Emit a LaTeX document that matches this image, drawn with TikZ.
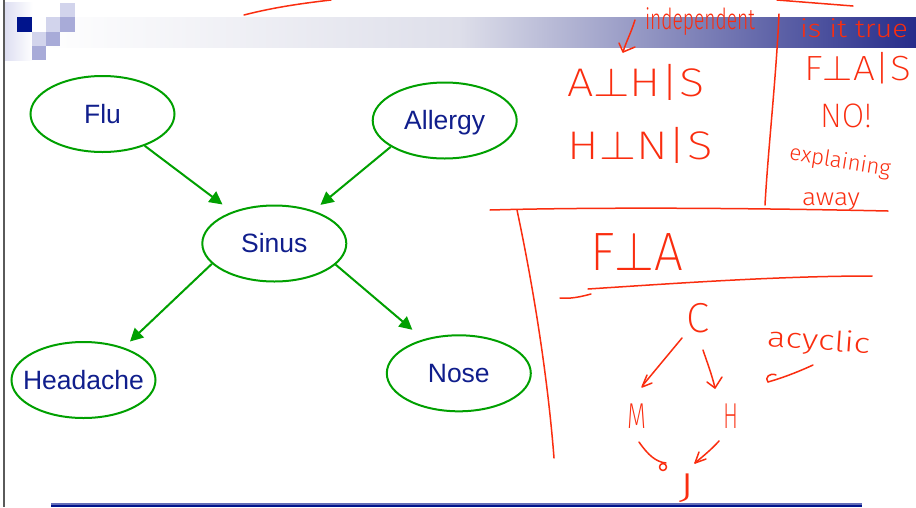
\documentclass[tikz,border=0pt]{standalone}
\usepackage{graphicx}
\usepackage{fontspec}
\setmainfont{Liberation Sans}
\IfFontExistsTF{Fira Sans Light}
  {\newfontfamily\hwa{Fira Sans Light}}
  {\IfFontExistsTF{Lato Light}
     {\newfontfamily\hwa{Lato Light}}
     {\newfontfamily\hwa{DejaVu Sans}}}
\IfFontExistsTF{Fira Sans ExtraLight}
  {\newfontfamily\hwb{Fira Sans ExtraLight}}
  {\IfFontExistsTF{Lato Light}
     {\newfontfamily\hwb{Lato Light}}
     {\newfontfamily\hwb{DejaVu Sans}}}
\IfFontExistsTF{latinmodern-math.otf}
  {\newfontfamily\pf{latinmodern-math.otf}}
  {\newfontfamily\pf{DejaVu Sans}}
\usetikzlibrary{shapes.geometric,arrows.meta}
\definecolor{bnblue}{RGB}{16,30,140}
\definecolor{bngreen}{RGB}{0,160,0}
\definecolor{ink}{RGB}{250,45,15}
\definecolor{hdrmid}{RGB}{222,223,234}
\definecolor{hdrend}{RGB}{38,44,138}
\definecolor{sqlight}{RGB}{210,212,236}
\definecolor{sqmed}{RGB}{168,171,216}
\definecolor{sqdark}{RGB}{0,20,140}
\definecolor{strip}{RGB}{222,223,242}
\definecolor{edge}{RGB}{90,90,90}
\definecolor{footlight}{RGB}{100,110,185}
\newcommand\lbl[1]{\makebox[0pt]{\vphantom{A}\smash{#1}}}
\newcommand\hwt[2]{\resizebox{#1}{\height}{#2}}
\newcommand\pp{{\pf ⊥}}
\begin{document}
\begin{tikzpicture}[x=1pt,y=-1pt,
  bn/.style={ellipse, draw=bngreen, line width=2pt, inner sep=0pt, text=bnblue,
             minimum width=144pt, minimum height=76pt, font=\fontsize{26.5}{30}\selectfont},
  bnarrow/.style={draw=bngreen, line width=2pt, -{Triangle[length=13pt,width=13pt]}},
  hand/.style={draw=ink, line width=1.5pt, line cap=round, line join=round},
  htext/.style={text=ink, inner sep=0pt, anchor=base, font=\hwa\fontsize{#1}{#1}\selectfont},
  btext/.style={text=ink, inner sep=0pt, anchor=base, font=\hwb\fontsize{#1}{#1}\selectfont},
]
\useasboundingbox (0,0) rectangle (916,507);
\fill[white] (0,0) rectangle (916,507);

% header bar
\shade[left color=white, right color=hdrmid] (33,17) rectangle (458.5,47);
\shade[left color=hdrmid, right color=hdrend] (458,17) rectangle (916,47);
% logo
\shade[left color=strip, right color=white] (5,2) rectangle (33,60);
\fill[sqlight] (60,3) rectangle (75,17);
\fill[sqdark] (17,17) rectangle (32,32);
\fill[sqlight] (46,17) rectangle (60,32);
\fill[sqmed] (60,17) rectangle (75,32);
\fill[sqlight] (32,32) rectangle (46,46);
\fill[sqmed] (46,32) rectangle (60,46);
\fill[sqmed] (32,46) rectangle (46,60);
% slide edge and footer line
\draw[edge, line width=1.5pt] (4,0) -- (4,507);
\fill[footlight] (51,503) rectangle (862,504.5);
\fill[sqdark] (51,504.5) rectangle (862,507);

% Bayesian network
\node[bn] (flu) at (102.5,114) {\lbl{Flu}};
\node[bn] (allergy) at (444.7,120.5) {\lbl{Allergy}};
\node[bn] (sinus) at (274.3,243.5) {\lbl{Sinus}};
\node[bn] (headache) at (83.5,380) {\lbl{Headache}};
\node[bn] (nose) at (458.8,373.3) {\lbl{Nose}};

\draw[bnarrow, shorten >=12pt] (flu.-37.8) -- (sinus.143.6);
\draw[bnarrow, shorten >=9pt] (allergy.206.8) -- (sinus.40);
\draw[bnarrow, shorten >=8.6pt] (sinus.198) -- (headache.39.4);
\draw[bnarrow, shorten >=14.5pt] (sinus.-19.3) -- (nose.136.5);

% handwritten strokes
\draw[hand] (244,15) .. controls (275,7) and (305,3) .. (331,0);
\draw[hand] (777,0) -- (853,6);
\draw[hand] (635,20) .. controls (631,33) and (626,42) .. (623,52);
\draw[hand] (619,43) -- (623,52) -- (635,47);
\draw[hand] (779,14) .. controls (776,80) and (768,150) .. (765,205);
\draw[hand] (490,210) .. controls (600,207) and (750,208) .. (888,211);
\draw[hand] (517,210) .. controls (534,290) and (548,380) .. (554,458);
\draw[hand] (560,298) .. controls (570,299) and (580,297) .. (591,294);
\draw[hand] (588,289) .. controls (680,283) and (780,276) .. (872,276);

% handwritten texts
\node[htext=29] (indep) at (700,29) {\hwt{110pt}{independent}};
\node[htext=25] (istrue) at (854,37) {\hwt{108pt}{is it true}};
\node[btext=40] (ahs) at (636,96) {\hwt{138pt}{A\pp H|S}};
\node[btext=40] (hns) at (640,159) {\hwt{145pt}{H\pp N|S}};
\node[btext=35] (fas) at (858,80) {\hwt{107pt}{F\pp A|S}};
\node[btext=34] (no) at (846,127) {\hwt{52pt}{NO!}};
\node[htext=22, anchor=center, rotate=-9] (expl) at (840,162) {\hwt{102pt}{explaining}};
\node[htext=24] (away) at (831,205) {\hwt{58pt}{away}};
\node[btext=54] (fa) at (637,270) {\hwt{93pt}{F\pp A}};
\node[btext=42, anchor=center] (c) at (698,318) {\hwt{23pt}{C}};
\node[htext=28, rotate=-4] (acyc) at (818,350) {\hwt{103pt}{acyclic}};
\node[btext=36, anchor=center] (m) at (637,416) {\hwt{19pt}{M}};
\node[btext=36, anchor=center] (h) at (731,416) {\hwt{15pt}{H}};
\node[btext=36, anchor=center] (j) at (687,488) {\hwt{17pt}{J}};

% handwritten arrows of the small graph
\draw[hand] (682,338) -- (643,385);
\draw[hand] (647,375) -- (642,387) -- (652,383);
\draw[hand] (703,350) .. controls (707,362) and (712,375) .. (715,388);
\draw[hand] (707,382) -- (715,388) -- (722,377);
\draw[hand] (813,365) .. controls (798,372) and (782,378) .. (768,382);
\draw[hand] (768,382) .. controls (764,378) and (770,372) .. (776,375);
\draw[hand] (639,442) .. controls (648,455) and (656,462) .. (666,463);
\draw[hand] (663,467) circle[radius=3.5pt];
\draw[hand] (719,441) .. controls (711,450) and (702,457) .. (695,463);
\draw[hand] (699,452) -- (695,463) -- (706,459);
\end{tikzpicture}
\end{document}
